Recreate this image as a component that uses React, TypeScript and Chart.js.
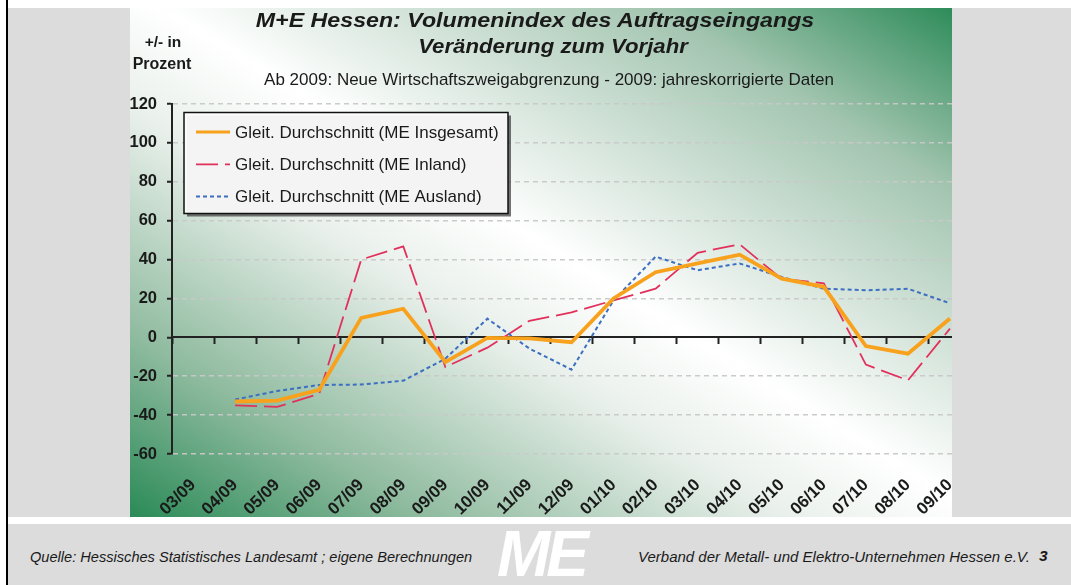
import React, { useEffect, useRef } from 'react';
import { Chart, registerables } from 'chart.js';

Chart.register(...registerables);

const categories = ['03/09', '04/09', '05/09', '06/09', '07/09', '08/09', '09/09', '10/09', '11/09', '12/09', '01/10', '02/10', '03/10', '04/10', '05/10', '06/10', '07/10', '08/10', '09/10'];
const insgesamt = [null, -33, -32.5, -27, 10, 14.7, -12.7, -0.3, -0.5, -2.5, 20, 33.5, 38, 42.5, 30.2, 26, -4.5, -8.4, 9.7];
const inland = [null, -35, -35.8, -29, 40, 46.8, -15.3, -5.3, 8.5, 12.8, 19, 25, 43.5, 47.8, 30, 27.8, -14, -22.1, 4.5];
const ausland = [null, -32, -27.6, -24.5, -24.3, -22.3, -11, 9.6, -5.8, -16.6, 19, 41.5, 34.5, 38, 31, 25, 24.2, 25, 17.5];
const seriesLabels = ['Gleit. Durchschnitt (ME Insgesamt)', 'Gleit. Durchschnitt (ME Inland)', 'Gleit. Durchschnitt (ME Ausland)'];
const yMin = -60;
const yMax = 120;
const yStep = 20;

const titleLine1 = 'M+E Hessen: Volumenindex des Auftragseingangs';
const titleLine2 = 'Veränderung zum Vorjahr';
const subtitle = 'Ab 2009: Neue Wirtschaftszweigabgrenzung - 2009: jahreskorrigierte Daten';
const unitLine1 = '+/- in';
const unitLine2 = 'Prozent';
const footerLeft = 'Quelle: Hessisches Statistisches Landesamt ; eigene Berechnungen';
const footerRight = 'Verband der Metall- und Elektro-Unternehmen Hessen e.V.';
const pageNo = '3';

const FONT = '"Liberation Sans", Arial, sans-serif';

const boxLegend = {
  id: 'boxLegend',
  afterDatasetsDraw(chart: any) {
    const { ctx, chartArea } = chart;
    const x = chartArea.left + 12;
    const y = chartArea.top + 8.5;
    const w = 324;
    const h = 101;
    ctx.save();
    ctx.fillStyle = 'rgba(70,70,70,0.75)';
    ctx.fillRect(x + 3, y + 3, w, h);
    ctx.fillStyle = 'rgba(251,252,251,0.95)';
    ctx.fillRect(x, y, w, h);
    ctx.strokeStyle = '#111';
    ctx.lineWidth = 1.5;
    ctx.strokeRect(x, y, w, h);
    chart.data.datasets.forEach((ds: any, i: number) => {
      const ry = y + 19.5 + i * 32.3;
      ctx.setLineDash(ds.borderDash || []);
      ctx.strokeStyle = ds.borderColor;
      ctx.lineWidth = Math.min(ds.borderWidth, 3);
      ctx.beginPath();
      ctx.moveTo(x + 12, ry);
      ctx.lineTo(x + 46, ry);
      ctx.stroke();
      ctx.setLineDash([]);
      ctx.fillStyle = '#1a1a1a';
      ctx.font = '17px ' + FONT;
      ctx.textBaseline = 'middle';
      ctx.textAlign = 'left';
      ctx.fillText(ds.label, x + 51, ry + 1);
    });
    ctx.restore();
  },
};

function ChartCanvas() {
  const ref = useRef<HTMLCanvasElement>(null);
  useEffect(() => {
    if (!ref.current) return;
    const chart = new Chart(ref.current, {
      type: 'line',
      data: {
        labels: categories,
        datasets: [
          {
            label: seriesLabels[0],
            data: insgesamt,
            borderColor: '#F8A11C',
            borderWidth: 3.8,
            pointRadius: 0,
            tension: 0,
            xAxisID: 'x',
            yAxisID: 'y',
            order: 0,
          },
          {
            label: seriesLabels[1],
            data: inland,
            borderColor: '#E2305C',
            borderWidth: 1.8,
            borderDash: [22, 7],
            pointRadius: 0,
            tension: 0,
            xAxisID: 'x',
            yAxisID: 'y',
            order: 2,
          },
          {
            label: seriesLabels[2],
            data: ausland,
            borderColor: '#3C6FC2',
            borderWidth: 2,
            borderDash: [4, 3],
            pointRadius: 0,
            tension: 0,
            xAxisID: 'x',
            yAxisID: 'y',
            order: 1,
          },
        ],
      },
      options: {
        responsive: false,
        animation: false,
        devicePixelRatio: 1,
        layout: { padding: { top: 96, right: 19, bottom: 0, left: 0 } },
        plugins: {
          legend: { display: false },
          title: { display: false },
          tooltip: { enabled: false },
        },
        scales: {
          x: {
            type: 'category',
            axis: 'x',
            position: 'bottom',
            offset: true,
            grid: { display: false, drawTicks: false },
            border: { display: false },
            ticks: {
              autoSkip: false,
              minRotation: 45,
              maxRotation: 45,
              padding: 21,
              color: '#1a1a1a',
              font: { family: FONT, size: 17, weight: 'bold' },
            },
            afterFit: (s: any) => {
              s.height = 63;
            },
          },
          x2: {
            type: 'category',
            axis: 'x',
            labels: categories,
            position: { y: 0 },
            offset: true,
            grid: {
              offset: true,
              drawOnChartArea: false,
              drawTicks: true,
              tickLength: 6,
              tickWidth: 2,
              tickColor: '#222',
            },
            border: { display: true, color: '#222', width: 2 },
            ticks: { display: false },
          },
          y: {
            type: 'linear',
            position: 'left',
            min: yMin,
            max: yMax,
            ticks: {
              stepSize: yStep,
              padding: 10,
              color: '#1a1a1a',
              font: { family: FONT, size: 16.5, weight: 'bold' },
            },
            grid: {
              color: (c: any) => (c.tick && c.tick.value === 0 ? 'rgba(0,0,0,0)' : 'rgba(200,200,200,0.95)'),
              lineWidth: 1.5,
              tickLength: 5,
              tickWidth: 2,
              tickColor: '#222',
            },
            border: { display: true, color: '#222', width: 2, dash: [5, 4] },
            afterFit: (s: any) => {
              s.width = 42;
            },
          },
        },
      },
      plugins: [boxLegend],
    } as any);
    return () => chart.destroy();
  }, []);
  return <canvas ref={ref} width={860} height={509} style={{ position: 'absolute', left: 0, top: 0, width: 860, height: 509 }} />;
}

export default function App() {
  const abs = (o: any) => ({ position: 'absolute', ...o } as React.CSSProperties);
  return (
    <div style={{ position: 'fixed', left: 0, top: 0, width: 1071, height: 585, background: '#fff', overflow: 'hidden', fontFamily: FONT, color: '#1a1a1a' }}>
      <div style={abs({ left: 6, top: 0, width: 1.5, height: 585, background: '#000' })} />
      <div style={abs({ left: 8, top: 8, width: 1063, height: 509, background: '#dcdcdc' })} />
      <div style={abs({ left: 8, top: 524, width: 1063, height: 61, background: '#dcdcdc' })} />
      <div
        style={abs({
          left: 130,
          top: 8,
          width: 822,
          height: 509,
          overflow: 'hidden',
          background: 'linear-gradient(to top right, #2a8a57 0%, #8fbb9f 18%, #e9f0eb 40%, #ffffff 52%, #a3c5b0 82%, #2e8c5a 100%)',
        })}
      >
        <ChartCanvas />
      </div>
      <div style={abs({ left: 535, top: 9, whiteSpace: 'nowrap', fontSize: 20, fontWeight: 'bold', fontStyle: 'italic', lineHeight: '22px', transform: 'translateX(-50%) scaleX(1.16)' })}>{titleLine1}</div>
      <div style={abs({ left: 553, top: 35, whiteSpace: 'nowrap', fontSize: 20, fontWeight: 'bold', fontStyle: 'italic', lineHeight: '22px', transform: 'translateX(-50%) scaleX(1.11)' })}>{titleLine2}</div>
      <div style={abs({ left: 549, top: 71, whiteSpace: 'nowrap', fontSize: 17, lineHeight: '18px', transform: 'translateX(-50%)' })}>{subtitle}</div>
      <div style={abs({ left: 163, top: 33, whiteSpace: 'nowrap', fontSize: 15.5, fontWeight: 'bold', lineHeight: '18px', transform: 'translateX(-50%)' })}>{unitLine1}</div>
      <div style={abs({ left: 162, top: 55, whiteSpace: 'nowrap', fontSize: 16, fontWeight: 'bold', lineHeight: '18px', transform: 'translateX(-50%)' })}>{unitLine2}</div>
      <div style={abs({ left: 30, top: 548, whiteSpace: 'nowrap', fontSize: 14.6, fontStyle: 'italic', lineHeight: '18px' })}>{footerLeft}</div>
      <div style={abs({ left: 497, top: 522, whiteSpace: 'nowrap', fontSize: 64, fontWeight: 900, fontStyle: 'italic', lineHeight: '64px', color: '#fff', letterSpacing: -4 })}>ME</div>
      <div style={abs({ left: 638, top: 548, whiteSpace: 'nowrap', fontSize: 15, fontStyle: 'italic', lineHeight: '18px' })}>{footerRight}</div>
      <div style={abs({ left: 1039, top: 547, whiteSpace: 'nowrap', fontSize: 15.5, fontStyle: 'italic', fontWeight: 'bold', lineHeight: '18px' })}>{pageNo}</div>
    </div>
  );
}
